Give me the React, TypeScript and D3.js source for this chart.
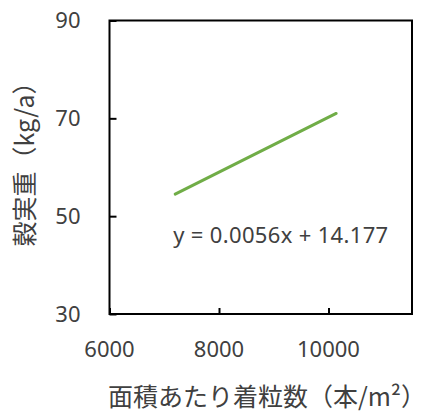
import { useEffect, useRef } from "react";
import * as d3 from "d3";

const trendX = [7200, 10140];
const trendY = [54.5, 71.0];
const xTicks = [6000, 8000, 10000];
const yTicks = [30, 50, 70, 90];
const equationText = "y = 0.0056x + 14.177";
const xLabel = "面積あたり着粒数（本/m²）";
const yLabel = "穀実重（kg/a）";

const App = () => {
  const svgRef = useRef<SVGSVGElement>(null);

  useEffect(() => {
    const width = 425,
      height = 416;
    const margin = { top: 20.5, right: 13, bottom: 102, left: 109.5 };
    const innerW = width - margin.left - margin.right;
    const innerH = height - margin.top - margin.bottom;
    const textColor = "#404040";
    const numFont = "'Noto Sans', 'Open Sans', sans-serif";
    const jpFont = "'Noto Sans CJK JP', sans-serif";

    const svg = d3.select(svgRef.current);
    svg.selectAll("*").remove();
    svg.attr("width", width).attr("height", height);

    const g = svg
      .append("g")
      .attr("transform", `translate(${margin.left},${margin.top})`);

    const x = d3.scaleLinear().domain([6000, 11525]).range([0, innerW]);
    const y = d3.scaleLinear().domain([30, 90]).range([innerH, 0]);

    // plot border
    g.append("rect")
      .attr("x", 0)
      .attr("y", 0)
      .attr("width", innerW)
      .attr("height", innerH)
      .attr("fill", "none")
      .attr("stroke", "#000")
      .attr("stroke-width", 2);

    // inner ticks
    const xAxis = g
      .append("g")
      .attr("transform", `translate(0,${innerH})`)
      .call(d3.axisBottom(x).tickValues(xTicks).tickSizeInner(-6).tickSizeOuter(0).tickFormat(() => ""));
    xAxis.select(".domain").remove();
    xAxis.selectAll(".tick line").attr("stroke", "#000").attr("stroke-width", 2);

    const yAxis = g
      .append("g")
      .call(d3.axisLeft(y).tickValues(yTicks).tickSizeInner(-7).tickSizeOuter(0).tickFormat(() => ""));
    yAxis.select(".domain").remove();
    yAxis.selectAll(".tick line").attr("stroke", "#000").attr("stroke-width", 2);

    // tick labels
    g.selectAll(".xlab")
      .data(xTicks)
      .enter()
      .append("text")
      .attr("x", (d) => x(d))
      .attr("y", innerH + 43)
      .attr("text-anchor", "middle")
      .style("font-family", numFont)
      .style("font-size", "22px")
      .attr("fill", textColor)
      .text((d) => d);

    g.selectAll(".ylab")
      .data(yTicks)
      .enter()
      .append("text")
      .attr("x", -29)
      .attr("y", (d) => y(d))
      .attr("dy", "0.36em")
      .attr("text-anchor", "end")
      .style("font-family", numFont)
      .style("font-size", "22px")
      .attr("fill", textColor)
      .text((d) => d);

    // trend line
    const pts = trendX.map((v, i) => [v, trendY[i]] as [number, number]);
    g.append("path")
      .datum(pts)
      .attr("fill", "none")
      .attr("stroke", "#70AD47")
      .attr("stroke-width", 3)
      .attr("stroke-linecap", "round")
      .attr("d", d3.line().x((d) => x(d[0])).y((d) => y(d[1])));

    // equation
    g.append("text")
      .attr("x", x(7200) - 2)
      .attr("y", y(44.6))
      .attr("textLength", 215)
      .attr("lengthAdjust", "spacing")
      .style("font-family", numFont)
      .style("font-size", "22px")
      .attr("fill", textColor)
      .text(equationText);

    // axis titles
    svg
      .append("text")
      .attr("x", 267)
      .attr("y", 406)
      .attr("text-anchor", "middle")
      .style("font-family", jpFont)
      .style("font-size", "25px")
      .attr("fill", textColor)
      .text(xLabel);

    svg
      .append("text")
      .attr("transform", `translate(34,158) rotate(-90)`)
      .attr("text-anchor", "middle")
      .style("font-family", jpFont)
      .style("font-size", "25px")
      .attr("fill", textColor)
      .text(yLabel);
  }, []);

  return <svg ref={svgRef} style={{ position: "absolute", left: 0, top: 0 }}></svg>;
};

export default App;
